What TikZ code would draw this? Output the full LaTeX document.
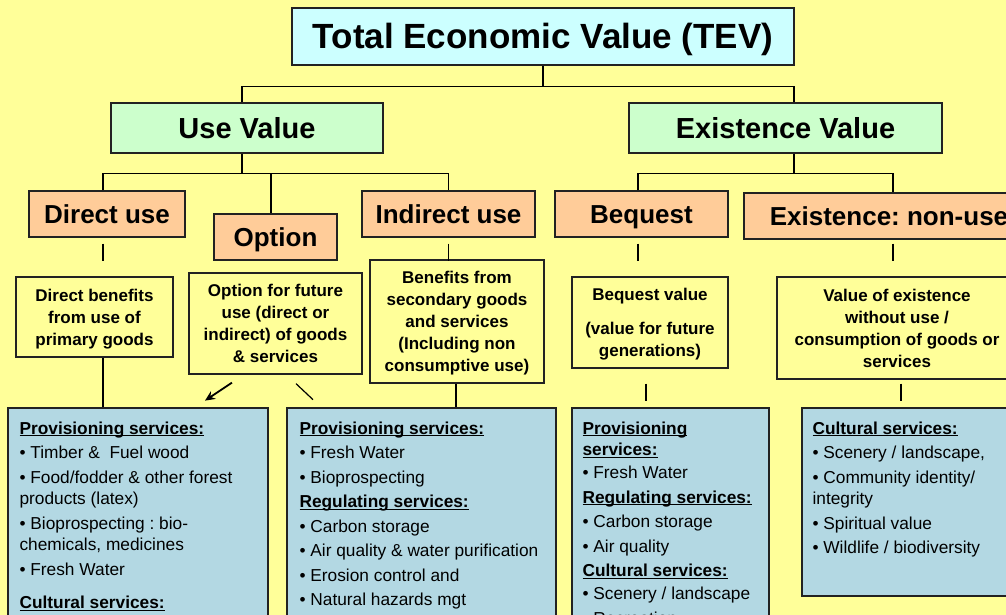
\documentclass[tikz,border=0pt]{standalone}
\usepackage{fontspec}
\setmainfont{Liberation Sans}
\usetikzlibrary{arrows.meta,calc}
\definecolor{bgyel}{HTML}{FFFF99}
\definecolor{tevc}{HTML}{CCFFFF}
\definecolor{usec}{HTML}{CCFFCC}
\definecolor{salm}{HTML}{FFCC99}
\definecolor{lblue}{HTML}{B3D8E3}
\definecolor{bord}{HTML}{222222}
\newcommand\hd[1]{\sbox0{\bfseries #1}\rlap{\rule[-2.3pt]{\wd0}{1.2pt}}\usebox0}
\begin{document}
\frenchspacing
\begin{tikzpicture}[x=1pt,y=-1pt,
  box/.style={draw=bord,line width=1.3pt,inner sep=0pt,align=center},
  topbox/.style={box,text height=25pt,text depth=0pt,fill=tevc,font=\fontsize{35}{41}\selectfont\bfseries},
  lvlbox/.style={box,text height=20.8pt,text depth=0pt,fill=usec,font=\fontsize{29}{34}\selectfont\bfseries},
  salbox/.style={box,text height=18.6pt,text depth=0pt,fill=salm,font=\fontsize{26}{30}\selectfont\bfseries},
  midbox/.style={box,text depth=0pt,fill=bgyel,font=\fontsize{17}{22}\selectfont\bfseries},
  bluebox/.style={box,fill=lblue},
  listtext/.style={inner sep=0pt,align=left,anchor=north west,font=\fontsize{17.3}{21.5}\selectfont},
  conn/.style={draw=black,line width=1.2pt}]
\path[use as bounding box] (0,0) rectangle (1006,615);
\clip (0,0) rectangle (1006,615);
\fill[bgyel] (0,0) rectangle (1006,615);

% level 0 and 1
\node[topbox,minimum width=502pt,minimum height=57pt] (tev) at (543,36.5) {Total Economic Value (TEV)};
\node[lvlbox,minimum width=272pt,minimum height=50pt] (useval) at (247,128) {Use Value};
\node[lvlbox,minimum width=313pt,minimum height=50pt] (exval) at (785.5,128) {Existence Value};

% level 2
\node[salbox,minimum width=156pt,minimum height=46pt] (direct) at (107,214) {Direct use};
\node[salbox,minimum width=123pt,minimum height=46pt] (option) at (275.5,237) {Option};
\node[salbox,minimum width=173pt,minimum height=46pt] (indirect) at (448.5,214) {Indirect use};
\node[salbox,minimum width=173pt,minimum height=46pt] (bequest) at (641.5,214) {Bequest};
\node[salbox,minimum width=290pt,minimum height=46pt] (nonuse) at (889,216) {Existence: non-use};

% level 3
\node[midbox,minimum width=157pt,minimum height=80pt] (dben) at (94.5,317) {Direct benefits\\from use of\\primary goods};
\node[midbox,minimum width=173pt,minimum height=101pt] (optben) at (275.5,323.5) {Option for future\\use (direct or\\indirect) of goods\\\& services};
\node[midbox,minimum width=174pt,minimum height=123pt] (indben) at (457,321.5) {Benefits from\\secondary goods\\and services\\(Including non\\consumptive use)};
\node[midbox,minimum width=156pt,minimum height=91pt] (beqval) at (650,322.5) {Bequest value\\[12pt](value for future\\generations)};
\node[midbox,minimum width=240pt,minimum height=102pt] (exben) at (897,328) {Value of existence\\without use /\\consumption of goods or\\services};

% level 4 boxes
\node[bluebox,minimum width=260pt,minimum height=232pt] (b1) at (138,524) {};
\node[bluebox,minimum width=269pt,minimum height=232pt] (b2) at (421.5,524) {};
\node[bluebox,minimum width=197pt,minimum height=232pt] (b3) at (670.5,524) {};
\node[bluebox,minimum width=210pt,minimum height=188pt] (b4) at (907,502) {};

\node[listtext] (t1) at ($(b1.north west)+(12,14)$) {\hd{Provisioning services:}\\[3pt]
• Timber \&~ Fuel wood\\[3pt]
• Food/fodder \& other forest\\
products (latex)\\[3pt]
• Bioprospecting : bio-\\
chemicals, medicines\\[3pt]
• Fresh Water\\[12pt]
\hd{Cultural services:}};
\node[listtext] (t2) at ($(b2.north west)+(13,14)$) {\hd{Provisioning services:}\\[3pt]
• Fresh Water\\[3pt]
• Bioprospecting\\[3pt]
\hd{Regulating services:}\\[3pt]
• Carbon storage\\[3pt]
• Air quality \& water purification\\[3pt]
• Erosion control and\\[3pt]
• Natural hazards mgt\\[3pt]
\hd{Cultural services:}};
\node[listtext] (t3) at ($(b3.north west)+(11,14)$) {\hd{Provisioning}\\
\hd{services:}\\[1.5pt]
• Fresh Water\\[3pt]
\hd{Regulating services:}\\[3pt]
• Carbon storage\\[3pt]
• Air quality\\[3pt]
\hd{Cultural services:}\\[1.5pt]
• Scenery / landscape\\[3pt]
• Recreation};
\node[listtext] (t4) at ($(b4.north west)+(11,14)$) {\hd{Cultural services:}\\[3pt]
• Scenery / landscape,\\[3pt]
• Community identity/\\
integrity\\[3pt]
• Spiritual value\\[3pt]
• Wildlife / biodiversity};

% connectors
\draw[conn] (tev.south) -- ++(0,21) coordinate (tevbar);
\draw[conn] ([xshift=-5pt]useval.north) |- (tevbar) -| ([xshift=8.5pt]exval.north);
\draw[conn] ([xshift=-5pt]useval.south) -- ++(0,20) coordinate (usebar);
\draw[conn] ([xshift=-4pt]direct.north) |- (usebar) -| (indirect.north);
\draw[conn] ([xshift=-4.5pt]option.north) -- ([xshift=-4.5pt]option.north |- usebar);
\draw[conn] ([xshift=8.5pt]exval.south) -- ++(0,20) coordinate (exbar);
\draw[conn] ([xshift=-3.5pt]bequest.north) |- (exbar) -| ([xshift=4pt]nonuse.north);

\draw[conn] ($(direct.south)+(-4,6)$) -- ($(direct.south)+(-4,23)$);
\draw[conn] ($(indirect.south)+(0,6)$) -- ($(indirect.south)+(0,23)$);
\draw[conn] ($(bequest.south)+(-3.5,6)$) -- ($(bequest.south)+(-3.5,23)$);
\draw[conn] ($(nonuse.south)+(4,4)$) -- ($(nonuse.south)+(4,21)$);

\draw[conn] ($(dben.south)+(8.5,0)$) coordinate (d1) -- (d1 |- b1.north);
\draw[conn] ($(indben.south)+(-1,0)$) coordinate (d2) -- (d2 |- b2.north);
\draw[conn] ($(beqval.south)+(-4,15)$) -- ($(beqval.south)+(-4,32)$);
\draw[conn] ($(exben.south)+(4,4)$) -- ($(exben.south)+(4,21)$);

\draw[conn,line width=1.8pt,-{Stealth[length=10pt,width=9pt]}] ($(optben.south)+(-43.5,8)$) -- ($(optben.south)+(-70.5,26)$);
\draw[conn] ($(optben.south)+(20.5,9)$) -- ($(optben.south)+(37.5,25)$);
\end{tikzpicture}
\end{document}
